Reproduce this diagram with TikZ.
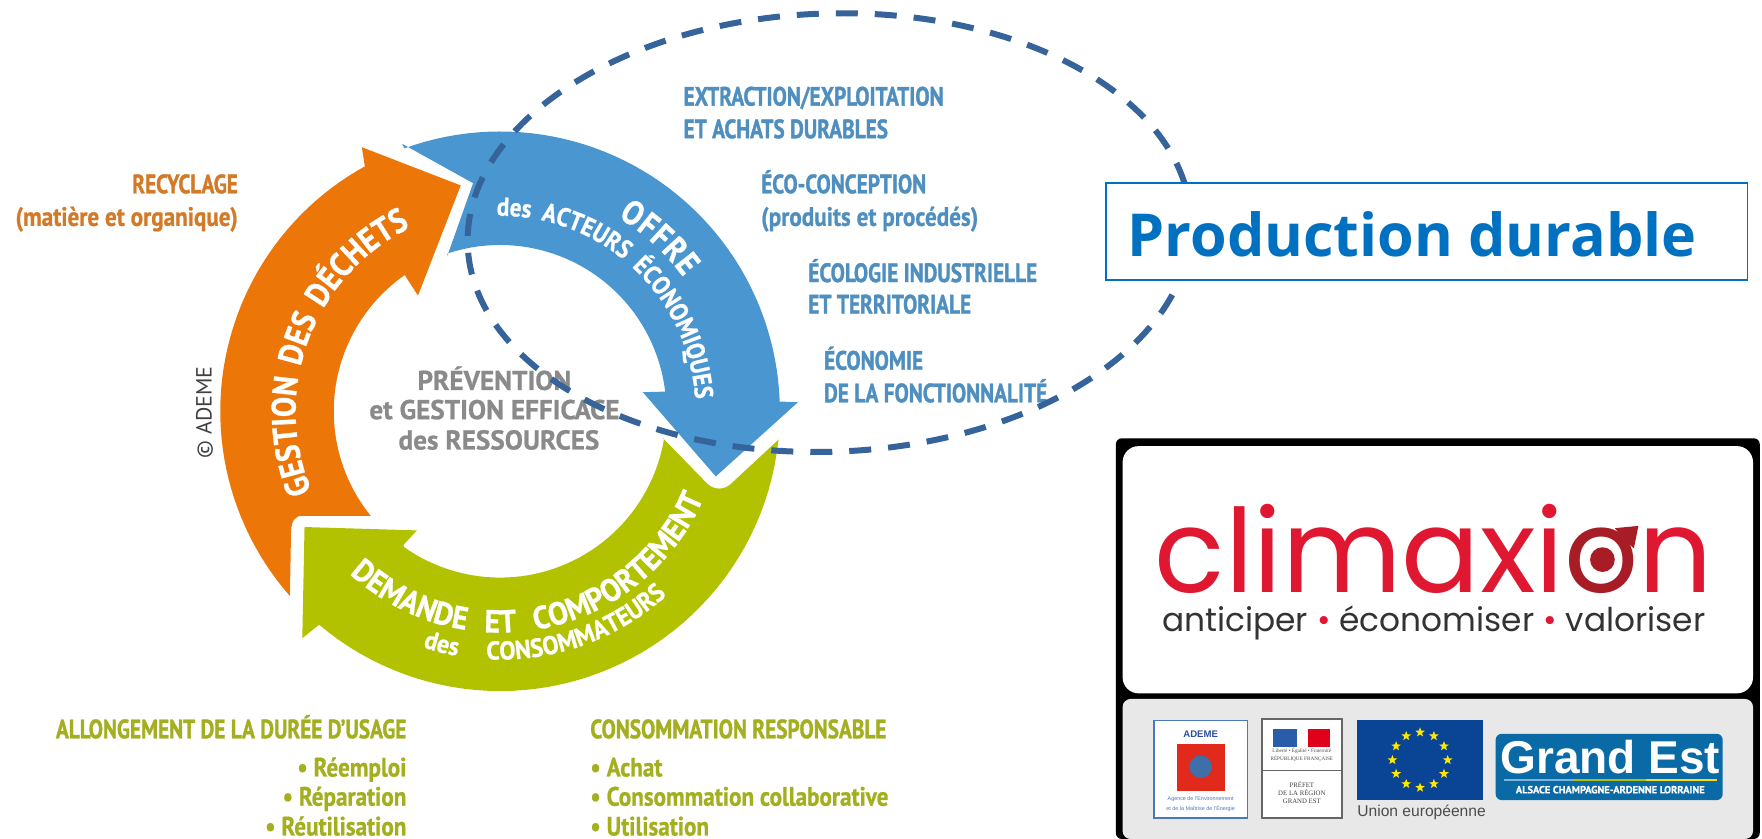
\documentclass[tikz,border=0pt]{standalone}
\usepackage{fontspec}
\usetikzlibrary{decorations.text,shapes.geometric}
\setmainfont{Liberation Sans}
\newfontfamily\cond[FakeStretch=.80,BoldFeatures={FakeBold=1.2}]{PT Sans}
\newfontfamily\condw[FakeStretch=.87,BoldFeatures={FakeBold=.8}]{PT Sans}
\newfontfamily\arcf[FakeStretch=.89,BoldFeatures={FakeBold=.8}]{PT Sans}
\newfontfamily\arcg[FakeStretch=.93,BoldFeatures={FakeBold=.8}]{PT Sans}
\newfontfamily\ptsans[BoldFeatures={FakeBold=.8}]{PT Sans}
\newfontfamily\pop{Poppins}
\newfontfamily\opensans{Open Sans}
\newfontfamily\libserif{Liberation Serif}
\newcommand\fs[1]{\fontsize{#1}{#1}\selectfont}
\definecolor{corange}{HTML}{ED7608}
\definecolor{cblue}{HTML}{4A96D0}
\definecolor{cgreen}{HTML}{B2C100}
\definecolor{torange}{HTML}{D27A28}
\definecolor{tblue}{HTML}{4F8FBF}
\definecolor{tgreen}{HTML}{A3AF1E}
\definecolor{tgray}{HTML}{8A8A8A}
\definecolor{cdash}{HTML}{35639A}
\definecolor{prod}{HTML}{0070C0}
\definecolor{cred}{HTML}{DF1731}
\definecolor{cdark}{HTML}{A81C26}
\definecolor{panel}{HTML}{E8E8E8}
\definecolor{eub}{HTML}{0A4595}
\definecolor{gest}{HTML}{0A6AA6}
\definecolor{ademeb}{HTML}{4A78BE}
\definecolor{ademet}{HTML}{2A4F9E}
\definecolor{ademer}{HTML}{E12A1B}
\definecolor{globe}{HTML}{3E6FA8}
\definecolor{frb}{HTML}{2A5CAA}
\definecolor{frr}{HTML}{E1001A}
\newcommand\px[1]{{445+#1*cos(\x)}}
\newcommand\py[1]{{366-#1*sin(\x)}}
\tikzset{
  x=.5619pt,y=-.5619pt,
  lab/.style={inner sep=0pt,font=\cond\bfseries\fs{13.3}},
  labw/.style={inner sep=0pt,font=\condw\bfseries\fs{13.3}},
  lo/.style={lab,text=torange},
  lb/.style={lab,text=tblue},
  lg/.style={lab,text=tgreen},
  low/.style={labw,text=torange},
  lbw/.style={labw,text=tblue},
  lgw/.style={labw,text=tgreen},
  cen/.style={inner sep=0pt,text=tgray,font=\ptsans\bfseries\fs{13.6}},
  tinytext/.style={inner sep=0pt,align=center},
  arc text/.style n args={2}{decorate,decoration={text along path,text align={fit to path stretching spaces},
     text={|\arcf\bfseries\fs{#1}\color{white}|#2}}},
  arc wide/.style n args={2}{decorate,decoration={text along path,text align={fit to path stretching spaces},
     text={|\arcg\bfseries\fs{#1}\color{white}|#2}}},
  arc word/.style n args={2}{decorate,decoration={text along path,text align={fit to path},
     text={|\arcf\bfseries\fs{#1}\color{white}|#2}}}
}
\begin{document}
\begin{tikzpicture}
\useasboundingbox (0,0) rectangle (1568,746.6);
% arrows
\fill[corange] (258,530) -- plot[domain=221.3:118.9,samples=50] (\px{249},\py{249}) -- (322,131) -- (410,165) -- (372,263)
   -- plot[domain=125:219,samples=50] (\px{148},\py{148}) -- (330,459) -- (270,459) .. controls (262,459) and (260,463) .. (259,472) -- cycle;
\fill[cblue] (358,128) -- plot[domain=110:2,samples=50] (\px{249},\py{249}) -- (710,358) -- (637,424) -- (572,349)
   -- plot[domain=6.8:108.4,samples=50] (\px{148},\py{148}) -- (398,228) -- (421,163) -- cycle;
\fill[cgreen] (693,391) -- plot[domain=-6.2:-130.3,samples=50] (\px{249},\py{249}) -- (269,568) -- (271,469) -- (371,472) -- (359,485)
   -- plot[domain=234.8:350.6,samples=50] (\px{148},\py{148}) -- (590,390) -- (630,431) .. controls (636,436) and (644,436) .. (650,431) -- cycle;
% curved labels
\path[arc text={17}{GESTION DES DÉCHETS}] plot[domain=203:116,samples=50] (\px{182},\py{182});
\path[arc word={17}{OFFRE}] plot[domain=58.7:36.2,samples=50] (\px{202},\py{202});
\path[arc text={13}{des ACTEURS ÉCONOMIQUES}] plot[domain=91:3.5,samples=50] (\px{174},\py{174});
\path[arc wide={16}{DEMANDE ET COMPORTEMENT}] plot[domain=227.2:337,samples=50] (\px{197},\py{197});
\path[arc wide={13}{des CONSOMMATEURS}] plot[domain=251.9:312.2,samples=50] (\px{221},\py{221});
% centre
\node[cen,anchor=base] (c1) at (440,347) {PRÉVENTION};
\node[cen,anchor=base] (c2) at (440,373) {et GESTION EFFICACE};
\node[cen,anchor=base] (c3) at (444,400) {des RESSOURCES};
\node[inner sep=0pt,rotate=90,text=black!75,font=\ptsans\fs{11}] (ademe) at (182,367) {© ADEME};
% side labels
\node[lo,anchor=base east] (o1) at (212,172) {RECYCLAGE};
\node[low,anchor=base east] (o2) at (212,201) {(matière et organique)};
\node[lb,anchor=base west] (b1) at (608,94) {EXTRACTION/EXPLOITATION};
\node[lb,anchor=base west] (b2) at (608,123) {ET ACHATS DURABLES};
\node[lb,anchor=base west] (b3) at (677,172) {ÉCO-CONCEPTION};
\node[lbw,anchor=base west] (b4) at (677,201) {(produits et procédés)};
\node[lb,anchor=base west] (b5) at (719,251) {ÉCOLOGIE INDUSTRIELLE};
\node[lb,anchor=base west] (b6) at (719,279) {ET TERRITORIALE};
\node[lb,anchor=base west] (b7) at (733,329) {ÉCONOMIE};
\node[lb,anchor=base west] (b8) at (733,358) {DE LA FONCTIONNALITÉ};
\node[lg,anchor=base east] (g1) at (362,657) {ALLONGEMENT DE LA DURÉE D’USAGE};
\node[lgw,anchor=base east] (g2) at (362,691) {• Réemploi};
\node[lgw,anchor=base east] (g3) at (362,717) {• Réparation};
\node[lgw,anchor=base east] (g4) at (362,743.5) {• Réutilisation};
\node[lg,anchor=base west] (g5) at (525,657) {CONSOMMATION RESPONSABLE};
\node[lgw,anchor=base west] (g6) at (525,691) {• Achat};
\node[lgw,anchor=base west] (g7) at (525,717) {• Consommation collaborative};
\node[lgw,anchor=base west] (g8) at (525,743.5) {• Utilisation};
% dashed ellipse
\draw[cdash,line width=3pt,dash pattern=on 11pt off 8.5pt,rotate around={2:(738,207)}] (738,207) ellipse [x radius=322,y radius=195];
% title box
\node[draw=prod,fill=white,line width=.8pt,minimum width=571*.5619pt,minimum height=86*.5619pt,inner sep=0pt] (box) at (1269.5,206) {};
\node[inner sep=0pt,anchor=base west,text=prod,font=\opensans\bfseries\fs{29.6}] (title) at (1003,228) {Production durable};
% logo panel
\fill[black,rounded corners=3pt] (993,390) rectangle (1566,746.6);
\fill[white,rounded corners=8pt] (999,397) rectangle (1560,617);
\fill[panel,rounded corners=4pt] (999,622) rectangle (1560,746.6);
\node[inner sep=0pt,anchor=base,font=\pop\fs{58},text=cred] (clim) at (1276,527) {climaxi{\color{cdark}o}n};
\node[inner sep=0pt,anchor=base,font=\pop\fs{16.4},text=black!80] (tag) at (1276,562) {anticiper\hspace{4.5pt}{\color{cred}•}\hspace{4.5pt}économiser\hspace{4.5pt}{\color{cred}•}\hspace{4.5pt}valoriser};
\fill[cdark] (1426,498) circle [radius=11];
\fill[cdark] (1437,470) -- (1458,468) -- (1454,488) -- (1446,481) -- cycle;
% ADEME logo
\node[draw=ademeb,fill=white,line width=.8pt,minimum width=83*.5619pt,minimum height=87*.5619pt,inner sep=0pt] (l1) at (1068.5,684.5) {};
\node[inner sep=0pt,text=ademet,font=\bfseries\fs{4.8}] (l1t) at (1068.5,653) {ADEME};
\fill[ademer] (1047,662.4) rectangle (1090,703.6);
\fill[globe] (1068.5,682.3) circle [radius=10];
\node[tinytext,text=ademeb,font=\fs{2.7}] (l1s) at (1068.5,715.3) {Agence de l’Environnement\\[1.2pt]et de la Maîtrise de l’Énergie};
% Prefet logo
\node[draw=black!60,fill=white,line width=.8pt,minimum width=71*.5619pt,minimum height=88*.5619pt,inner sep=0pt] (l2) at (1158.5,684) {};
\draw[black!60,line width=.8pt] (1123,685.8) -- (1194,685.8);
\fill[frb] (1133,648.8) rectangle (1154,664.5);
\fill[frr] (1164,648.8) rectangle (1183.6,664.5);
\node[tinytext,text=black!70,font=\libserif\fs{2.6}] (l2a) at (1158.5,668.3) {Liberté • Égalité • Fraternité};
\node[tinytext,text=black!70,font=\libserif\fs{2.6}] (l2b) at (1158.5,674.9) {RÉPUBLIQUE FRANÇAISE};
\node[tinytext,text=black!75,font=\libserif\fs{3.4}] (l2c) at (1158.5,705.5) {PRÉFET\\[.6pt]DE LA RÉGION\\[.6pt]GRAND EST};
% EU flag
\fill[eub] (1207.6,641) rectangle (1320,712);
\foreach \a in {0,30,...,330}
  \node[star,star points=5,star point ratio=2.4,fill=yellow!90!orange,inner sep=0pt,minimum size=9*.5619pt] at ({1263.7+24.6*cos(\a)},{676.3+24.6*sin(\a)}) {};
\node[inner sep=0pt,anchor=base west,text=black!70,font=\fs{7.8}] (eu) at (1207.6,727) {Union européenne};
% Grand Est
\fill[gest,rounded corners=3pt] (1331,653) rectangle (1533,712);
\node[inner sep=0pt,anchor=base,text=white,font=\bfseries\fs{23}] (ge) at (1433,688) {Grand Est};
\fill[cblue!70!white] (1338,692.8) rectangle (1401,695);
\fill[cgreen] (1401,692.8) rectangle (1465,695);
\fill[yellow!80!orange] (1465,692.8) rectangle (1528,695);
\node[inner sep=0pt,anchor=base,text=white,font=\ptsans\bfseries\fs{5.2}] (ges) at (1433,706) {ALSACE CHAMPAGNE-ARDENNE LORRAINE};
\end{tikzpicture}
\end{document}
